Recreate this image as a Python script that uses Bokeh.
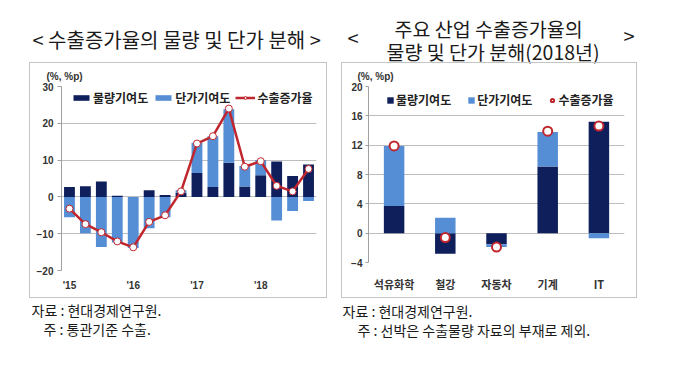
from bokeh.plotting import figure
from bokeh.models import (Range1d, FactorRange, FixedTicker, Title, InlineStyleSheet,
                          Legend, LegendItem, ColumnDataSource)
from bokeh.layouts import row
from bokeh.embed import file_html
from bokeh.resources import INLINE

# ---------------- data ----------------
quarters = ["15Q1", "15Q2", "15Q3", "15Q4", "16Q1", "16Q2", "16Q3", "16Q4",
            "17Q1", "17Q2", "17Q3", "17Q4", "18Q1", "18Q2", "18Q3", "18Q4"]
vol_q = [2.7, 2.9, 4.2, 0.3, 0.0, 1.8, 0.5, 1.1, 6.5, 2.7, 9.3, 2.8, 5.9, 9.6, 5.7, 8.8]
price_q = [-5.5, -9.9, -13.6, -12.4, -13.9, -8.5, -5.5, 0.7, 8.2, 13.8, 14.5, 5.6, 4.1, -6.4, -3.8, -1.1]
growth_q = [-3.2, -7.4, -9.6, -12.1, -13.7, -6.8, -5.0, 1.5, 14.5, 16.5, 24.0, 8.2, 9.7, 3.0, 1.5, 7.6]
year_ticks = [0, 4, 8, 12]
year_labels = ["'15", "'16", "'17", "'18"]

industries = ["석유화학", "철강", "자동차", "기계", "IT"]
vol_i = [3.7, -2.8, -1.5, 9.1, 15.2]
price_i = [8.2, 2.1, -0.4, 4.7, -0.7]
growth_i = [11.9, -0.6, -1.9, 13.9, 14.6]

DARK = "#0E1F5B"
LIGHT = "#558ED5"
RED = "#C0262D"
GRID = "#BDBDBD"
KFONT = "Noto Sans CJK KR"
NFONT = "Liberation Sans"
TXT = "#1A1A1A"


def stack(vol, price):
    vb, vt, pb, pt = [], [], [], []
    for v, pr in zip(vol, price):
        vb.append(min(0, v)); vt.append(max(0, v))
        base = v if (pr >= 0) == (v >= 0) else 0
        pb.append(min(base, base + pr)); pt.append(max(base, base + pr))
    return vb, vt, pb, pt


def style(p):
    p.background_fill_color = "white"
    p.border_fill_color = "white"
    p.outline_line_color = None
    p.xgrid.grid_line_color = None
    p.ygrid.grid_line_color = GRID
    p.xaxis.axis_line_color = None
    p.xaxis.major_tick_line_color = None
    p.xaxis.minor_tick_line_color = None
    p.yaxis.axis_line_color = "#A0A0A0"
    p.yaxis.major_tick_line_color = "#A0A0A0"
    p.yaxis.minor_tick_line_color = None
    p.yaxis.major_tick_in = 0
    p.yaxis.major_tick_out = 4
    p.yaxis.major_label_text_font = NFONT
    p.yaxis.major_label_text_font_style = "bold"
    p.yaxis.major_label_text_font_size = "10px"
    p.yaxis.major_label_text_color = "#333333"


def title(p, side, text, size, align="left", offset=0, standoff=10, valign="middle",
          font=KFONT, bold=False, color=TXT):
    p.add_layout(Title(text=text, align=align, offset=offset, standoff=standoff,
                       vertical_align=valign, text_font=font, text_font_size=size,
                       text_font_style="bold" if bold else "normal", text_color=color), side)


def frame_box(left, top, width, height):
    css = (":host { position: relative; }\n"
           ":host::after { content: ''; position: absolute; left: %dpx; top: %dpx; "
           "width: %dpx; height: %dpx; border: 1.5px solid #C4C4C4; box-sizing: border-box; "
           "pointer-events: none; }" % (left, top, width, height))
    return [InlineStyleSheet(css=css)]


# ---------------- left chart ----------------
vb, vt, pb, pt = stack(vol_q, price_q)
idx = list(range(len(quarters)))
src1 = ColumnDataSource(dict(x=idx, vb=vb, vt=vt, pb=pb, pt=pt, g=growth_q))

p1 = figure(frame_width=255, frame_height=184, min_border_left=61, min_border_right=24,
            min_border_top=86, min_border_bottom=82,
            x_range=Range1d(-0.5, 15.5), y_range=Range1d(-20, 30),
            output_backend="svg", toolbar_location=None)
style(p1)
p1.yaxis.ticker = FixedTicker(ticks=[-20, -10, 0, 10, 20, 30])
p1.yaxis.major_label_standoff = 4
p1.xaxis.ticker = FixedTicker(ticks=year_ticks)
p1.xaxis.major_label_overrides = {t: l for t, l in zip(year_ticks, year_labels)}
p1.xaxis.major_label_text_font = NFONT
p1.xaxis.major_label_text_font_style = "bold"
p1.xaxis.major_label_text_font_size = "10px"
p1.xaxis.major_label_text_color = "#333333"
p1.xaxis.major_label_standoff = 3

r_v1 = p1.vbar(x="x", bottom="vb", top="vt", width=0.68, source=src1, fill_color=DARK, line_color=None)
r_p1 = p1.vbar(x="x", bottom="pb", top="pt", width=0.68, source=src1, fill_color=LIGHT, line_color=None)
r_l1 = p1.line(x="x", y="g", source=src1, line_color=RED, line_width=2.5)
r_m1 = p1.scatter(x="x", y="g", source=src1, marker="circle", size=7, fill_color="white",
                  line_color=RED, line_width=1)

leg1 = Legend(items=[LegendItem(label="물량기여도", renderers=[r_v1]),
                     LegendItem(label="단가기여도", renderers=[r_p1]),
                     LegendItem(label="수출증가율", renderers=[r_l1, r_m1])],
              orientation="horizontal", location=(10, 164), padding=0, margin=0, spacing=5,
              glyph_width=20, glyph_height=7, label_standoff=2,
              background_fill_alpha=0, border_line_color=None,
              label_text_font=KFONT, label_text_font_style="bold",
              label_text_font_size="12px", label_text_color="#222222")
p1.add_layout(leg1)

title(p1, "above", "(%, %p)", "10px", offset=-15, standoff=10, valign="bottom",
      font=NFONT, bold=True, color="#333333")
title(p1, "above", "< 수출증가율의 물량 및 단가 분해 >", "20px", offset=-29, standoff=17)
title(p1, "below", "자료 : 현대경제연구원.", "14px", offset=-30, standoff=10.4)
title(p1, "below", "주 : 통관기준 수출.", "14px", offset=-18, standoff=-15.6)
p1.stylesheets = frame_box(29, 62, 298, 236)

# ---------------- right chart ----------------
vb2, vt2, pb2, pt2 = stack(vol_i, price_i)
src2 = ColumnDataSource(dict(x=industries, vb=vb2, vt=vt2, pb=pb2, pt=pt2, g=growth_i))

p2 = figure(frame_width=256, frame_height=176, min_border_left=28, min_border_right=47,
            min_border_top=86, min_border_bottom=90,
            x_range=FactorRange(*industries, range_padding=0), y_range=Range1d(-4, 20),
            output_backend="svg", toolbar_location=None)
style(p2)
p2.yaxis.ticker = FixedTicker(ticks=[-4, 0, 4, 8, 12, 16, 20])
p2.yaxis.major_tick_out = 3
p2.yaxis.major_label_standoff = 3
p2.xaxis.major_label_text_font = KFONT
p2.xaxis.major_label_text_font_style = "bold"
p2.xaxis.major_label_text_font_size = "11px"
p2.xaxis.major_label_text_color = "#333333"
p2.xaxis.major_label_standoff = 7

r_v2 = p2.vbar(x="x", bottom="vb", top="vt", width=0.4, source=src2, fill_color=DARK, line_color=None)
r_p2 = p2.vbar(x="x", bottom="pb", top="pt", width=0.4, source=src2, fill_color=LIGHT, line_color=None)
r_m2 = p2.scatter(x="x", y="g", source=src2, marker="circle", size=9, fill_color="white",
                  line_color=RED, line_width=2)

leg2 = Legend(items=[LegendItem(label="물량기여도", renderers=[r_v2]),
                     LegendItem(label="단가기여도", renderers=[r_p2]),
                     LegendItem(label="수출증가율", renderers=[r_m2])],
              orientation="horizontal", location=(18, 154), padding=0, margin=0, spacing=16,
              glyph_width=8, glyph_height=8, label_standoff=2,
              background_fill_alpha=0, border_line_color=None,
              label_text_font=KFONT, label_text_font_style="bold",
              label_text_font_size="12px", label_text_color="#222222")
p2.add_layout(leg2)

title(p2, "above", "(%, %p)", "10px", offset=-11, standoff=10, valign="bottom",
      font=NFONT, bold=True, color="#333333")
title(p2, "above", "물량 및 단가 분해(2018년)", "19.5px", offset=18, standoff=-6.5)
title(p2, "above", "<", "20px", offset=-21, standoff=-29)
title(p2, "above", ">", "20px", align="right", offset=-10, standoff=-29)
title(p2, "above", "주요 산업 수출증가율의", "19.5px", offset=26, standoff=-18)
title(p2, "below", "자료 : 현대경제연구원.", "14px", offset=-26, standoff=10.4)
title(p2, "below", "주 : 선박은 수출물량 자료의 부재로 제외.", "14px", offset=-11, standoff=-15.6)
p2.stylesheets = frame_box(1, 62, 296, 236)

layout = row(p1, p2)
open("out.html", "w").write(file_html(layout, INLINE))
